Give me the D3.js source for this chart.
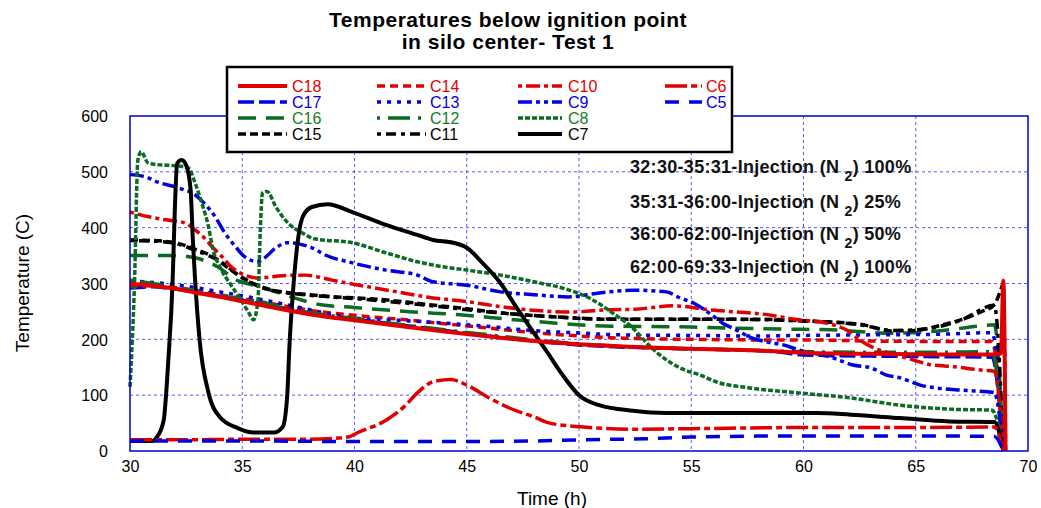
<!DOCTYPE html>
<html><head><meta charset="utf-8">
<script src="https://cdn.jsdelivr.net/npm/d3@7"></script>
<style>body{margin:0;background:#fff;} svg{display:block;font-family:"Liberation Sans",Arial,sans-serif;}</style>
</head><body>
<svg id="chart" width="1041" height="508"></svg>
<script>
const xTicks = [30,35,40,45,50,55,60,65,70];
const yTicks = [0,100,200,300,400,500,600];
const titleLines = ["Temperatures below ignition point","in silo center- Test 1"];
const notes = [["32:30-35:31-Injection (N","2",") 100%"],["35:31-36:00-Injection (N","2",") 25%"],["36:00-62:00-Injection (N","2",") 50%"],["62:00-69:33-Injection (N","2",") 100%"]];
const seriesNames = ["C18","C17","C16","C15","C14","C13","C12","C11","C10","C9","C8","C7","C6","C5"];

const C18 = [[30,300],[31,296],[32,291],[33,283],[34,276],[35,268],[36,260],[37,252],[38,245],[40,234],[42,224],[44,214],[46,205],[48,197],[50,191],[52,187],[55,183],[58,180],[60,176],[63,174],[66,173],[68.5,173],[68.8,175],[68.9,305],[69.0,0]];
const C17 = [[30,292],[31,294],[32,290],[33,284],[34,277],[35,270],[36,262],[37,254],[38,246],[40,236],[42,226],[44,216],[46,206],[48,197],[50,190],[52,186],[55,183],[57,181],[59,177],[60,172],[63,170],[66,169],[68.4,168],[68.9,0]];
const C16 = [[30,350],[32,350],[32.9,346],[33.9,330],[34.8,305],[35.5,297],[36.5,285],[37.5,272],[38.5,262],[40,257],[42.6,249],[44.7,244],[46.9,236],[49,229],[51.1,224],[55,222],[57,220],[59.8,218],[61.2,217],[64,211],[66,215],[67.9,224],[68.5,226],[68.9,0]];
const C15 = [[30,378],[31,377],[32,373],[33,360],[33.7,348],[34.5,324],[35.2,306],[36,292],[37,284],[38,280],[39.2,276],[41,272],[42.5,266],[43.8,260],[45,255],[46.6,247],[49,240],[51,236],[55,236],[58,236],[60,233],[62.5,227],[64,215],[65,216],[66,224],[67,235],[67.9,249],[68.5,262],[68.8,290],[68.9,300],[69.0,0]];
const C14 = [[30,295],[31,296],[32,293],[33,287],[34,280],[35,273],[36,266],[37,259],[38,252],[40,243],[42,236],[44,228],[46,220],[48,212],[50,206],[52,202],[55,200],[58,199],[60,199],[63,197],[66,196],[68.4,196],[68.9,0]];
const C13 = [[30,305],[31,302],[32,298],[33,292],[34,285],[35,278],[36,270],[37,262],[38,253],[40,238],[42,234],[44,229],[46,223],[47.5,217],[50.2,211],[51.8,208],[55,207],[58,206],[60,207],[63,208],[66,209],[68.4,212],[68.9,0]];
const C12 = [[30,306],[31,300],[32,294],[33,285],[34,278],[35,272],[36,265],[37,255],[38,248],[40,237],[42,227],[44,217],[46,208],[48,199],[50,192],[52,187],[55,183],[58,180],[60,178],[63,177],[66,177],[68.4,178],[68.9,0]];
const C11 = [[30,377],[31,376],[32,372],[33,358],[34,340],[35,310],[36,291],[38,279],[40,273],[43,262],[46,249],[49,240],[52,236],[56,236],[60,233],[62.5,226],[64,216],[65,217],[67,234],[68.5,261],[68.9,0]];
const C10 = [[30,428],[30.9,419],[31.6,414],[32.4,409],[32.9,396],[33.3,382],[33.7,364],[34.1,348],[34.5,330],[34.9,319],[35.7,310],[36.8,314],[37.8,315],[39,306],[40.2,297],[41.9,285],[43.2,276],[45.1,267],[46.6,258],[47.7,253],[49.6,249],[51.4,253],[52.5,254],[54.2,260],[55.8,253],[57,249],[58,246],[59.8,235],[61,229],[61.9,217],[62.5,199],[63.1,185],[63.7,177],[64.9,163],[65.6,155],[66.7,151],[67.9,145],[68.5,143],[68.9,0]];
const C9 = [[30,495],[30.7,491],[31.2,482],[32,473],[32.4,468],[32.9,459],[33.3,444],[33.8,419],[34.2,392],[34.7,366],[35.1,348],[35.7,339],[36,346],[36.5,364],[37,373],[37.5,371],[38.1,364],[38.7,351],[39.9,337],[41.4,324],[42.8,315],[43.5,303],[45,297],[46.5,285],[48,280],[49.5,276],[50.9,283],[52.4,288],[53.9,285],[54.5,274],[55.1,265],[55.8,247],[56.4,229],[57,217],[57.6,204],[58.4,195],[59.1,190],[59.8,181],[61.3,167],[62.2,154],[63,149],[63.7,136],[64.3,131],[65.2,118],[65.9,113],[67,109],[68.2,106],[68.5,105],[68.9,0]];
const C8 = [[30,115],[30.2,300],[30.35,521],[30.5,536],[30.8,516],[31.2,513],[32,511],[32.6,507],[32.9,480],[33.2,444],[33.5,401],[33.7,360],[34,330],[34.5,297],[35,267],[35.3,247],[35.5,235],[35.7,270],[35.8,390],[35.9,462],[36.1,465],[36.5,437],[37,410],[37.7,390],[38.2,380],[39.9,373],[41.4,355],[42.8,339],[43.5,333],[45,324],[46.5,315],[48,303],[49.5,289],[50.6,271],[51.5,247],[52.4,220],[53.2,186],[53.9,163],[54.6,147],[55.4,136],[56.1,124],[57.6,113],[59.8,104],[62.1,95],[64.3,82],[66.5,75],[68.4,73],[68.9,0]];
const C7 = [[30,18],[31,18],[31.2,25],[31.5,55],[31.7,158],[31.9,306],[32.0,437],[32.1,515],[32.3,521],[32.5,512],[32.7,468],[32.8,378],[32.9,306],[33.1,199],[33.5,104],[34,61],[34.8,41],[35.5,33],[36.4,33],[36.8,43],[37.0,97],[37.1,186],[37.3,306],[37.5,384],[37.7,420],[38.1,437],[38.8,442],[39.9,428],[41.4,405],[42.8,387],[43.5,378],[44.4,373],[45,364],[45.7,337],[46.5,301],[47.2,258],[48,211],[48.6,176],[49.2,140],[50,100],[50.9,82],[52.4,72],[53.9,68],[57.6,68],[60.6,68],[62.1,65],[64.3,59],[66.5,53],[68.5,52],[68.9,0]];
const C6 = [[30,20],[32,20],[35,21],[38,21],[39.7,25],[40.2,34],[41.4,55],[42.2,79],[42.8,104],[43.5,124],[44.3,128],[45,118],[46,95],[46.9,77],[48,61],[48.7,50],[50.2,43],[52.4,39],[55,40],[60,42],[65,42],[68.5,43],[68.9,0]];
const C5 = [[30,18],[35,18],[40,17],[45,17],[48,18],[50,20],[53,22],[55,25],[60,27],[65,27],[68.5,26],[68.9,0]];

const RED="#e00000", BLUE="#0000e0", GREEN="#0b6b22", BLACK="#000000";
const styles = {
  C18:{c:RED,d:null,w:4},   C17:{c:BLUE,d:"16,5",w:3.5}, C16:{c:GREEN,d:"18,10",w:3.5}, C15:{c:BLACK,d:"8,4",w:3.5},
  C14:{c:RED,d:"8,5",w:3.5}, C13:{c:BLUE,d:"4,6",w:3.5}, C12:{c:GREEN,d:"3,8,22,8",w:3.5}, C11:{c:BLACK,d:"4,5,10,5",w:3.5},
  C10:{c:RED,d:"4,4,14,4",w:3.5}, C9:{c:BLUE,d:"14,4,4,4,4,4",w:3.5}, C8:{c:GREEN,d:"5,2",w:3.5}, C7:{c:BLACK,d:null,w:4},
  C6:{c:RED,d:"22,4,6,4",w:3.5}, C5:{c:BLUE,d:"14,10",w:3.5}
};
const dataMap = {C18,C17,C16,C15,C14,C13,C12,C11,C10,C9,C8,C7,C6,C5};

const svg = d3.select("#chart");
const L=130,R=1028,T=116,B=451;
const x = d3.scaleLinear().domain([30,70]).range([L,R]);
const y = d3.scaleLinear().domain([0,600]).range([B,T]);

// grid
const g = svg.append("g");
g.selectAll("line.vg").data(xTicks.slice(1,-1)).enter().append("line")
  .attr("x1",d=>x(d)).attr("x2",d=>x(d)).attr("y1",T).attr("y2",B)
  .attr("stroke","#3a3aff").attr("stroke-width",1).attr("stroke-dasharray","3,3").attr("opacity",0.85);
g.selectAll("line.hg").data(yTicks.slice(1,-1)).enter().append("line")
  .attr("y1",d=>y(d)).attr("y2",d=>y(d)).attr("x1",L).attr("x2",R)
  .attr("stroke","#3a3aff").attr("stroke-width",1).attr("stroke-dasharray","3,3").attr("opacity",0.85);

// axes (labels only)
const xAxis = d3.axisBottom(x).tickValues(xTicks).tickSize(0).tickPadding(10);
const yAxis = d3.axisLeft(y).tickValues(yTicks).tickSize(0).tickPadding(22);
const gx = svg.append("g").attr("transform",`translate(0,${B})`).call(xAxis);
const gy = svg.append("g").attr("transform",`translate(${L},0)`).call(yAxis);
[gx,gy].forEach(a=>{a.select(".domain").remove(); a.selectAll("text").attr("font-size",16).attr("fill","#000").attr("font-family","Liberation Sans, Arial, sans-serif");});
gy.selectAll("text").attr("dy","0.36em");

// lines
const line = d3.line().x(d=>x(d[0])).y(d=>y(d[1])).curve(d3.curveMonotoneX);
const order = ["C17","C16","C15","C14","C13","C12","C11","C10","C9","C8","C7","C6","C5","C18"];
const lg = svg.append("g");
order.forEach(n=>{
  const s=styles[n];
  lg.append("path").datum(dataMap[n]).attr("d",line).attr("fill","none")
    .attr("stroke",s.c).attr("stroke-width",s.w).attr("stroke-dasharray",s.d).attr("stroke-linejoin","round");
});

// border
svg.append("rect").attr("x",L).attr("y",T).attr("width",R-L).attr("height",B-T)
  .attr("fill","none").attr("stroke","#0000d0").attr("stroke-width",1.5);

// legend
const lgx=227, lgy=67;
svg.append("rect").attr("x",lgx).attr("y",lgy).attr("width",505).attr("height",85)
  .attr("fill","#fff").attr("stroke","#000").attr("stroke-width",2.5);
const colX=[[238,287,292],[377,426,430],[518,562,568],[665,702,706]];
const rowY=[92,108,124,140];
const layout=[["C18","C14","C10","C6"],["C17","C13","C9","C5"],["C16","C12","C8",null],["C15","C11","C7",null]];
layout.forEach((row,ri)=>row.forEach((n,ci)=>{
  if(!n) return;
  const s=styles[n], cx=colX[ci], yy=rowY[ri]-6;
  svg.append("line").attr("x1",cx[0]).attr("x2",cx[1]).attr("y1",yy).attr("y2",yy)
    .attr("stroke",s.c).attr("stroke-width",s.w).attr("stroke-dasharray",s.d);
  svg.append("text").attr("x",cx[2]).attr("y",rowY[ri]).attr("font-size",16)
    .attr("fill",s.c===GREEN?"#1a7a2a":s.c).text(n);
}));

// title
titleLines.forEach((t,i)=>svg.append("text").attr("x",508).attr("y",27+i*22).attr("text-anchor","middle")
  .attr("font-size",21).attr("font-weight","bold").attr("letter-spacing",0.5).text(t));

// notes
const noteY=[173,208,240,273];
notes.forEach((p,i)=>{
  const t=svg.append("text").attr("x",630).attr("y",noteY[i]).attr("font-size",18).attr("font-weight","bold").attr("fill","#111").attr("letter-spacing",0.3);
  t.append("tspan").text(p[0]+" ");
  t.append("tspan").attr("dy",8).attr("font-size",14).text(p[1]);
  t.append("tspan").attr("dy",-8).text(p[2]);
});

// axis titles
svg.append("text").attr("transform","translate(29,283) rotate(-90)").attr("text-anchor","middle").attr("font-size",19).text("Temperature (C)");
svg.append("text").attr("x",552).attr("y",505).attr("text-anchor","middle").attr("font-size",19).text("Time (h)");
</script>
</body></html>
